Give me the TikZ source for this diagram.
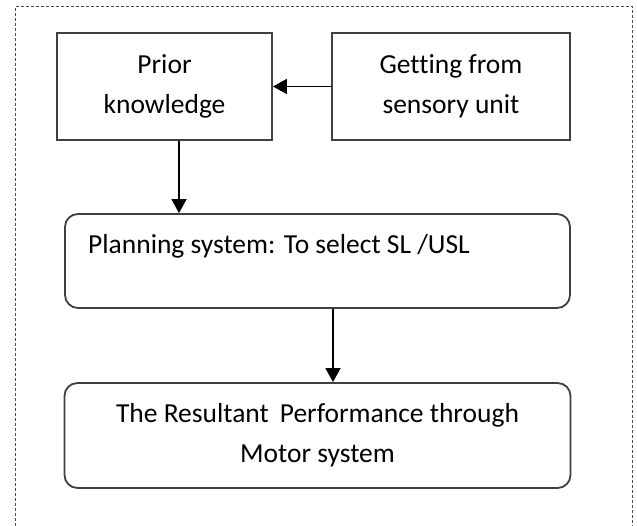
\documentclass[tikz,border=0pt]{standalone}
\usepackage{fontspec}
\setmainfont[Ligatures={NoCommon}]{Carlito}
\usetikzlibrary{arrows.meta}
\begin{document}
\begin{tikzpicture}[x=1pt,y=1pt,
  every node/.style={font=\fontsize{27.5}{40}\selectfont, inner sep=0pt},
  sqbox/.style={draw=black!75, line width=1.8pt, rectangle, align=center},
  rbox/.style={draw=black!75, line width=1.8pt, rectangle, rounded corners=13pt, align=center},
  arr/.style={draw=black, line width=1.5pt, -{Triangle[length=14pt,width=15pt]}}
]
\useasboundingbox (0,0) rectangle (637,526);
\fill[white] (0,0) rectangle (637,526);
\draw[black!70, line width=0.8pt, dash pattern=on 3pt off 2pt] (15.5,0) -- (15.5,519.5) -- (632,519.5) -- (632,0);
\node[sqbox, minimum width=215pt, minimum height=107pt] (prior) at (164.5,439.5) {Prior\\knowledge};
\node[sqbox, minimum width=238pt, minimum height=107pt] (sensory) at (451,439.5) {Getting from\\sensory unit};
\node[rbox, minimum width=505pt, minimum height=94pt] (plan) at (317.5,265) {};
\node[anchor=base west] (plantext) at (88,272) {Planning system: To select SL /USL};
\node[rbox, minimum width=506pt, minimum height=105pt] (result) at (317.5,90.5) {The Resultant\hspace{0.4em}Performance through\\Motor system};
\draw[arr] (sensory.west) -- (prior.east);
\draw[arr] (prior.south -| 179,0) -- (plan.north -| 179,0);
\draw[arr] (plan.south -| 333,0) -- (result.north -| 333,0);
\end{tikzpicture}
\end{document}
